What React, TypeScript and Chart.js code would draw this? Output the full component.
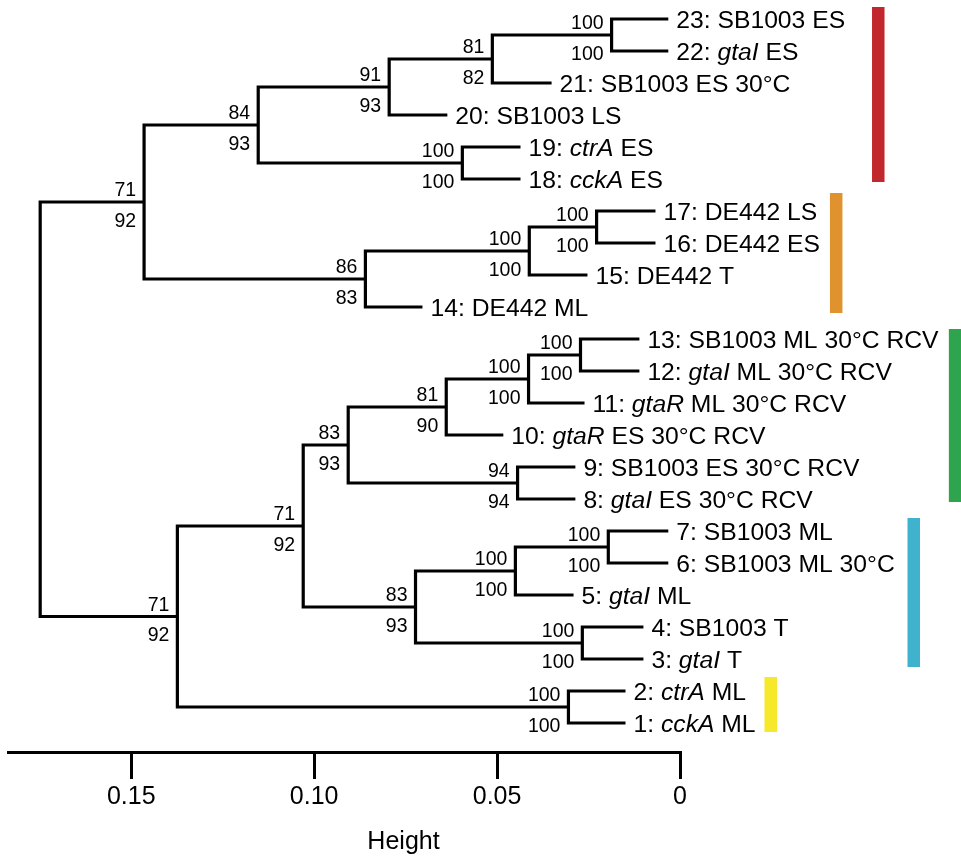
import React, { useEffect, useRef } from "react";
import { Chart, registerables } from "chart.js";

Chart.register(...registerables);

const FONT = '"Liberation Sans", Arial, Helvetica, sans-serif';

// ---- Leaves (1 = bottom, 23 = top) ----
const LEAF_NUMBERS = [1, 2, 3, 4, 5, 6, 7, 8, 9, 10, 11, 12, 13, 14, 15, 16, 17, 18, 19, 20, 21, 22, 23];
const LEAF_STRAINS = [
  "cckA", "ctrA", "gtaI", "SB1003", "gtaI", "SB1003", "SB1003", "gtaI", "SB1003", "gtaR", "gtaR", "gtaI",
  "SB1003", "DE442", "DE442", "DE442", "DE442", "cckA", "ctrA", "SB1003", "SB1003", "gtaI", "SB1003",
];
const LEAF_CONDITIONS = [
  "ML", "ML", "T", "T", "ML", "ML 30°C", "ML", "ES 30°C RCV", "ES 30°C RCV", "ES 30°C RCV", "ML 30°C RCV",
  "ML 30°C RCV", "ML 30°C RCV", "ML", "T", "ES", "LS", "ES", "ES", "LS", "ES 30°C", "ES", "ES",
];
const ITALIC_STRAINS = ["cckA", "ctrA", "gtaI", "gtaR"];
// height at which each leaf's terminal branch ends
const LEAF_END_HEIGHTS = [
  0.0149, 0.0149, 0.0100, 0.0100, 0.0291, 0.0032, 0.0032, 0.0286, 0.0286, 0.0483, 0.0261, 0.0111,
  0.0111, 0.0704, 0.0253, 0.0067, 0.0067, 0.0436, 0.0436, 0.0636, 0.0351, 0.0032, 0.0032,
];

// ---- Merges (negative = leaf, positive = earlier merge, 1-based) ----
const MERGE_A = [-23, 1, 2, -19, 3, -17, 6, 7, 5, -13, 10, 11, -9, 12, -7, 15, -4, 16, 14, -2, 19, 9];
const MERGE_B = [-22, -21, -20, -18, 4, -16, -15, -14, 8, -12, -11, -10, -8, 13, -6, -5, -3, 17, 18, -1, 20, 21];
const MERGE_HEIGHTS = [
  0.0187, 0.0513, 0.0795, 0.0595, 0.1153, 0.0228, 0.0412, 0.0860, 0.1465, 0.0272, 0.0414, 0.0639,
  0.0444, 0.0907, 0.0196, 0.0450, 0.0267, 0.0723, 0.1030, 0.0305, 0.1374, 0.1749,
];
const BOOT_UPPER = [100, 81, 91, 100, 84, 100, 100, 86, 71, 100, 100, 81, 94, 83, 100, 100, 100, 83, 71, 100, 71, null];
const BOOT_LOWER = [100, 82, 93, 100, 93, 100, 100, 83, 92, 100, 100, 90, 94, 93, 100, 100, 100, 93, 92, 100, 92, null];

// ---- Axis ----
const X_TICKS = [0, 0.05, 0.1, 0.15];
const X_TICK_LABELS = ["0", "0.05", "0.10", "0.15"];
const X_MAX = 0.1837;
const Y_MIN = 0.09375;
const Y_MAX = 23.59375;

// ---- Group bars ----
const GROUP_COLORS = ["#C1272D", "#E0922F", "#2EA44F", "#3FB2CE", "#F6E82A"];
const GROUP_X = [-0.0542, -0.0427, -0.0752, -0.0639, -0.0248];
const GROUP_TOP = [23.375, 17.56, 13.31, 7.41, 2.44];
const GROUP_BOTTOM = [17.906, 13.81, 7.91, 2.75, 0.72];

// node positions
function nodeY(ref: number, ys: number[]): number {
  return ref < 0 ? -ref : ys[ref - 1];
}
function nodeH(ref: number): number {
  return ref < 0 ? LEAF_END_HEIGHTS[-ref - 1] : MERGE_HEIGHTS[ref - 1];
}
const MERGE_Y: number[] = [];
MERGE_A.forEach((a, i) => {
  MERGE_Y.push((nodeY(a, MERGE_Y) + nodeY(MERGE_B[i], MERGE_Y)) / 2);
});

const treeDatasets = MERGE_A.map((a, i) => {
  const b = MERGE_B[i];
  const h = MERGE_HEIGHTS[i];
  const ya = nodeY(a, MERGE_Y);
  const yb = nodeY(b, MERGE_Y);
  return {
    data: [
      { x: nodeH(a), y: ya },
      { x: h, y: ya },
      { x: h, y: yb },
      { x: nodeH(b), y: yb },
    ],
    borderColor: "#000",
    borderWidth: 3.2,
    pointRadius: 0,
    tension: 0,
    fill: false,
    clip: false as any,
    borderJoinStyle: "miter" as const,
    borderCapStyle: "butt" as const,
  };
});

const groupDatasets = GROUP_COLORS.map((c, i) => ({
  data: [
    { x: GROUP_X[i], y: GROUP_TOP[i] },
    { x: GROUP_X[i], y: GROUP_BOTTOM[i] },
  ],
  borderColor: c,
  borderWidth: 12.5,
  pointRadius: 0,
  tension: 0,
  fill: false,
  clip: false as any,
  borderCapStyle: "butt" as const,
}));

const textPlugin = {
  id: "treeText",
  afterDatasetsDraw(chart: any) {
    const { ctx, scales } = chart;
    const x = scales.x;
    const y = scales.y;
    ctx.save();
    ctx.fillStyle = "#000";
    ctx.textBaseline = "alphabetic";
    // leaf labels
    LEAF_NUMBERS.forEach((leaf, i) => {
      let px = x.getPixelForValue(LEAF_END_HEIGHTS[i]) + 8;
      const py = y.getPixelForValue(leaf) + 8.5;
      const strain = LEAF_STRAINS[i];
      const parts: [string, boolean][] = [
        [leaf + ": ", false],
        [strain, ITALIC_STRAINS.includes(strain)],
        [" " + LEAF_CONDITIONS[i], false],
      ];
      ctx.textAlign = "left";
      for (const [t, it] of parts) {
        ctx.font = (it ? "italic " : "") + "24.7px " + FONT;
        ctx.fillText(t, px, py);
        px += ctx.measureText(t).width;
      }
    });
    // bootstrap values
    ctx.font = "19.5px " + FONT;
    ctx.textAlign = "right";
    MERGE_HEIGHTS.forEach((h, i) => {
      const up = BOOT_UPPER[i];
      const lo = BOOT_LOWER[i];
      const px = x.getPixelForValue(h) - 8;
      const py = y.getPixelForValue(MERGE_Y[i]);
      if (up != null) ctx.fillText(String(up), px, py - 6);
      if (lo != null) ctx.fillText(String(lo), px, py + 24.5);
    });
    // axis title
    ctx.font = "25px " + FONT;
    ctx.textAlign = "center";
    ctx.fillText("Height", 403.5, 849);
    ctx.restore();
  },
};

export default function App() {
  const ref = useRef<HTMLCanvasElement>(null);
  useEffect(() => {
    document.body.style.margin = "0";
    const chart = new Chart(ref.current as HTMLCanvasElement, {
      type: "line",
      data: { datasets: [...treeDatasets, ...groupDatasets] as any },
      options: {
        animation: false,
        responsive: false,
        maintainAspectRatio: false,
        devicePixelRatio: 1,
        layout: { padding: { left: 8, right: 281, top: 0, bottom: 0 } },
        plugins: { legend: { display: false }, tooltip: { enabled: false }, title: { display: false } },
        events: [],
        scales: {
          x: {
            type: "linear",
            position: "bottom",
            reverse: true,
            bounds: "data",
            afterDataLimits: (s: any) => {
              s.min = 0;
              s.max = X_MAX;
            },
            afterBuildTicks: (s: any) => {
              s.ticks = X_TICKS.map((v) => ({ value: v }));
            },
            afterFit: (s: any) => {
              s.height = 105;
            },
            border: { display: true, color: "#000", width: 3 },
            grid: {
              display: true,
              drawOnChartArea: false,
              drawTicks: true,
              tickLength: 27,
              tickWidth: 3,
              tickColor: "#000",
              lineWidth: 3,
              color: "#000",
            },
            ticks: {
              color: "#000",
              padding: 3,
              maxRotation: 0,
              autoSkip: false,
              font: { size: 25, family: FONT },
              callback: (v: any) => {
                const idx = X_TICKS.findIndex((t) => Math.abs(t - Number(v)) < 1e-9);
                return idx >= 0 ? X_TICK_LABELS[idx] : "";
              },
            },
          },
          y: {
            type: "linear",
            display: false,
            min: Y_MIN,
            max: Y_MAX,
          },
        },
      } as any,
      plugins: [textPlugin],
    });
    return () => chart.destroy();
  }, []);
  return (
    <div style={{ width: 961, height: 857, background: "#fff" }}>
      <canvas ref={ref} width={961} height={857} style={{ display: "block" }} />
    </div>
  );
}
